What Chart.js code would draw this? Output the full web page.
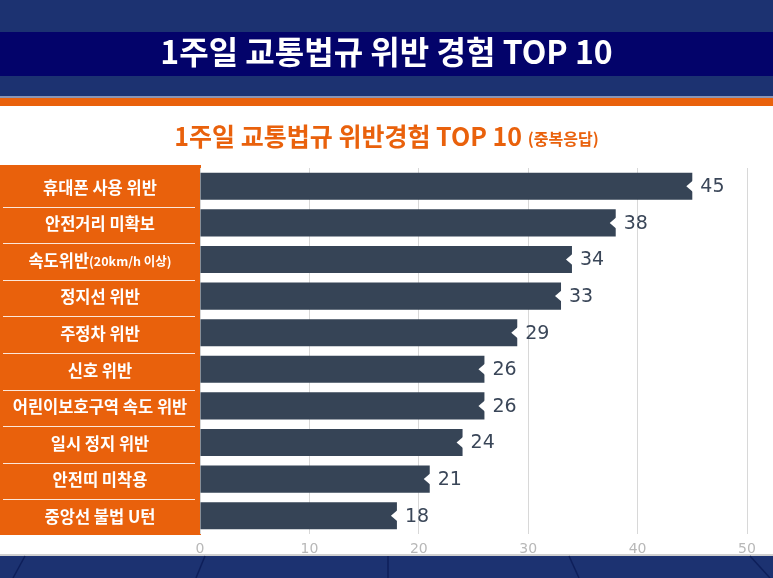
<!DOCTYPE html>
<html>
<head>
<meta charset="utf-8">
<script src="https://cdn.jsdelivr.net/npm/chart.js@4/dist/chart.umd.min.js"></script>
<style>
  html, body { margin: 0; padding: 0; background: #fff; overflow: hidden; }
  #wrap { width: 773px; height: 578px; }
</style>
</head>
<body>
<div id="wrap"><canvas id="chart" width="773" height="578"></canvas></div>
<script>
// 데이터
const categories = [
    '휴대폰 사용 위반',
    '안전거리 미확보',
    '속도위반(20km/h 이상)',
    '정지선 위반',
    '주정차 위반',
    '신호 위반',
    '어린이보호구역 속도 위반',
    '일시 정지 위반',
    '안전띠 미착용',
    '중앙선 불법 U턴'
];
const values = [45, 38, 34, 33, 29, 26, 26, 24, 21, 18];
const xTicks = [0, 10, 20, 30, 40, 50];
const mainTitle = '1주일 교통법규 위반 경험 TOP 10';
const subTitle = '1주일 교통법규 위반경험 TOP 10';
const subNote = '(중복응답)';

const colors = {
    navyTop: '#1c3271',
    band: '#03036a',
    orange: '#e9610c',
    bar: '#364456',
    value: '#3a4658',
    grid: '#d8d8d8',
    tick: '#b8b8b8'
};
const KR = '"Noto Sans CJK KR", "Noto Sans", sans-serif';

// 배경, 제목, 라벨 패널
const backdrop = {
    id: 'backdrop',
    beforeDraw(chart) {
        const ctx = chart.ctx;
        const W = chart.width;
        const area = chart.chartArea;
        ctx.save();
        ctx.fillStyle = '#ffffff';
        ctx.fillRect(0, 0, W, chart.height);

        // 상단 헤더
        ctx.fillStyle = colors.navyTop;
        ctx.fillRect(0, 0, W, 97);
        ctx.fillStyle = colors.band;
        ctx.fillRect(0, 32, W, 44);
        ctx.fillStyle = '#8a94b4';
        ctx.fillRect(0, 96, W, 2);
        ctx.fillStyle = colors.orange;
        ctx.fillRect(0, 98, W, 8);

        // 하단 띠
        ctx.fillStyle = '#cfcfcf';
        ctx.fillRect(0, 554, W, 2);
        ctx.fillStyle = colors.navyTop;
        ctx.fillRect(0, 556, W, chart.height - 556);
        ctx.strokeStyle = '#0e1f5a';
        ctx.lineWidth = 1.5;
        [[25, 13], [205, 196], [388, 388], [569, 579], [750, 770]].forEach(([a, b]) => {
            ctx.beginPath();
            ctx.moveTo(a, 556);
            ctx.lineTo(b, 578);
            ctx.stroke();
        });

        // 제목
        ctx.textAlign = 'center';
        ctx.textBaseline = 'middle';
        ctx.fillStyle = '#ffffff';
        ctx.font = 'bold 32px ' + KR;
        ctx.fillText(mainTitle, W / 2, 52);

        // 부제목
        ctx.font = 'bold 25px ' + KR;
        const w1 = ctx.measureText(subTitle + ' ').width;
        ctx.font = 'bold 16px ' + KR;
        const w2 = ctx.measureText(subNote).width;
        let sx = W / 2 - (w1 + w2) / 2;
        ctx.textAlign = 'left';
        ctx.fillStyle = colors.orange;
        ctx.font = 'bold 25px ' + KR;
        ctx.fillText(subTitle + ' ', sx, 136);
        ctx.font = 'bold 16px ' + KR;
        ctx.fillText(subNote, sx + w1, 139);

        // 라벨 패널
        ctx.fillStyle = colors.orange;
        ctx.fillRect(0, area.top - 3, area.left + 1, area.bottom - area.top + 4);
        ctx.restore();
    },
    afterDatasetsDraw(chart) {
        const ctx = chart.ctx;
        const yScale = chart.scales.y;
        const area = chart.chartArea;
        const step = (area.bottom - area.top) / categories.length;
        ctx.save();

        // 구분선
        ctx.strokeStyle = 'rgba(255,255,255,0.85)';
        ctx.lineWidth = 1;
        for (let i = 1; i < categories.length; i++) {
            const yy = Math.round(area.top + step * i + 2) + 0.5;
            ctx.beginPath();
            ctx.moveTo(3, yy);
            ctx.lineTo(195, yy);
            ctx.stroke();
        }

        // 항목 라벨
        ctx.fillStyle = '#ffffff';
        ctx.textBaseline = 'middle';
        categories.forEach((label, i) => {
            const y = yScale.getPixelForValue(i) + 1;
            const p = label.indexOf('(');
            const main = p >= 0 ? label.slice(0, p) : label;
            const note = p >= 0 ? label.slice(p) : '';
            ctx.font = 'bold 16.5px ' + KR;
            const wm = ctx.measureText(main).width;
            ctx.font = 'bold 12.5px ' + KR;
            const wn = note ? ctx.measureText(note).width : 0;
            let x = 100 - (wm + wn) / 2;
            ctx.textAlign = 'left';
            ctx.font = 'bold 16.5px ' + KR;
            ctx.fillText(main, x, y);
            if (note) {
                ctx.font = 'bold 12.5px ' + KR;
                ctx.fillText(note, x + wm, y + 1);
            }
        });

        // 막대 끝 홈, 값 라벨
        const meta = chart.getDatasetMeta(0);
        meta.data.forEach((bar, i) => {
            const x = bar.x, y = bar.y;
            ctx.fillStyle = '#ffffff';
            ctx.beginPath();
            ctx.moveTo(x + 1, y - 6);
            ctx.lineTo(x - 6, y);
            ctx.lineTo(x + 1, y + 6);
            ctx.closePath();
            ctx.fill();

            ctx.fillStyle = colors.value;
            ctx.font = '19px "DejaVu Sans", sans-serif';
            ctx.textAlign = 'left';
            ctx.fillText(values[i], x + 8, y + 1);
        });
        ctx.restore();
    }
};

new Chart(document.getElementById('chart'), {
    type: 'bar',
    data: {
        labels: categories,
        datasets: [{
            data: values,
            backgroundColor: colors.bar,
            borderWidth: 0,
            barPercentage: 0.74,
            categoryPercentage: 1.0
        }]
    },
    options: {
        indexAxis: 'y',
        responsive: false,
        animation: false,
        layout: { padding: { top: 168, right: 26, bottom: 0, left: 200 } },
        plugins: {
            legend: { display: false },
            tooltip: { enabled: false }
        },
        scales: {
            x: {
                min: xTicks[0],
                max: xTicks[xTicks.length - 1],
                afterBuildTicks(scale) {
                    scale.ticks = xTicks.map(v => ({ value: v }));
                },
                afterFit(scale) { scale.height = 44; },
                grid: { color: colors.grid, drawTicks: false },
                border: { display: false },
                ticks: {
                    color: colors.tick,
                    padding: 7,
                    font: { family: '"DejaVu Sans", sans-serif', size: 14 }
                }
            },
            y: {
                grid: { display: false },
                border: { display: false },
                ticks: { display: false },
                afterFit(scale) { scale.width = 0; }
            }
        }
    },
    plugins: [backdrop]
});
</script>
</body>
</html>
